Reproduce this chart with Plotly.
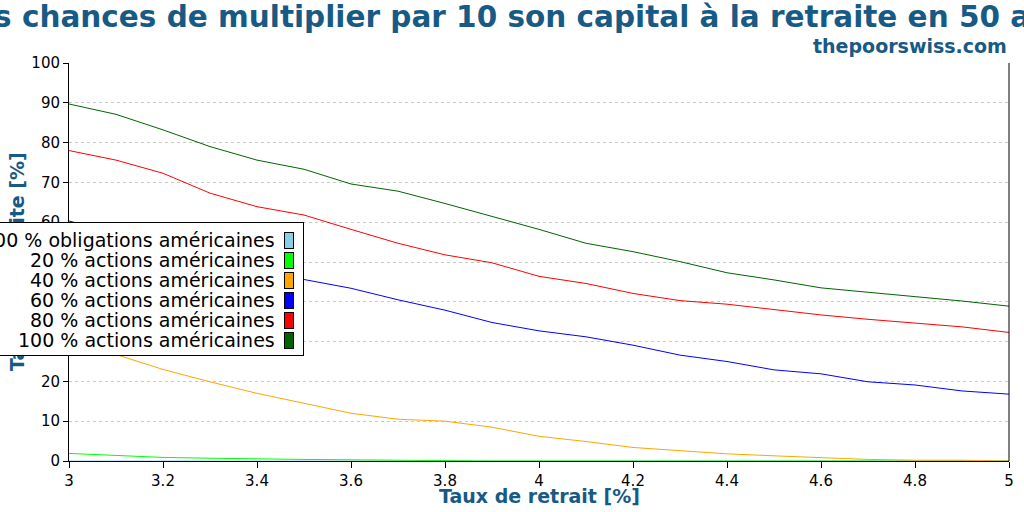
import plotly.graph_objects as go

# taux de retrait [%]
withdrawal_rate = [3.0, 3.1, 3.2, 3.3, 3.4, 3.5, 3.6, 3.7, 3.8, 3.9, 4.0,
                   4.1, 4.2, 4.3, 4.4, 4.5, 4.6, 4.7, 4.8, 4.9, 5.0]

# taux de réussite [%] pour chaque allocation
bonds_100 = [0.0] * 21
stocks_20 = [1.9, 1.4, 0.9, 0.7, 0.5, 0.4, 0.3, 0.2, 0.0, 0.0, 0.0,
             0.0, 0.0, 0.0, 0.0, 0.0, 0.0, 0.0, 0.0, 0.0, 0.0]
stocks_40 = [30.5, 26.8, 23.0, 19.9, 17.0, 14.5, 12.0, 10.5, 10.0, 8.5, 6.2,
             4.9, 3.4, 2.6, 1.8, 1.3, 0.8, 0.4, 0.2, 0.2, 0.0]
stocks_60 = [60.3, 57.2, 54.0, 51.0, 48.3, 45.6, 43.4, 40.5, 37.9, 34.8, 32.7,
             31.2, 29.1, 26.6, 25.0, 22.9, 21.9, 19.9, 19.1, 17.6, 16.8]
stocks_80 = [78.0, 75.6, 72.3, 67.3, 63.9, 61.8, 58.2, 54.7, 51.8, 49.8, 46.4,
             44.6, 42.1, 40.3, 39.4, 38.1, 36.7, 35.6, 34.6, 33.7, 32.3]
stocks_100 = [89.7, 87.1, 83.2, 79.0, 75.6, 73.3, 69.6, 67.8, 64.7, 61.4, 58.2,
              54.7, 52.6, 50.1, 47.3, 45.5, 43.5, 42.4, 41.3, 40.2, 38.9]

series_names = [
    "100 % obligations américaines",
    "20 % actions américaines",
    "40 % actions américaines",
    "60 % actions américaines",
    "80 % actions américaines",
    "100 % actions américaines",
]
series_values = [bonds_100, stocks_20, stocks_40, stocks_60, stocks_80, stocks_100]
series_colors = ["#87ceeb", "#00ff00", "#ffa500", "#0000ff", "#ff0000", "#006400"]

x_ticks = [3, 3.2, 3.4, 3.6, 3.8, 4, 4.2, 4.4, 4.6, 4.8, 5]

blue_text = "#175a85"
font = "DejaVu Sans"

W, H = 1024, 512
M = dict(l=69, r=15, t=63, b=51, autoexpand=False)
PW = W - M["l"] - M["r"]
PH = H - M["t"] - M["b"]


def px_x(x):
    return (x - M["l"]) / PW


def px_y(y):
    return (H - M["b"] - y) / PH


fig = go.Figure()
for name, values, color in zip(series_names, series_values, series_colors):
    fig.add_trace(
        go.Scatter(
            x=withdrawal_rate,
            y=values,
            name=name,
            mode="lines",
            line=dict(color=color, width=1),
            showlegend=False,
        )
    )

fig.update_layout(
    width=W,
    height=H,
    margin=M,
    paper_bgcolor="white",
    plot_bgcolor="white",
    font=dict(family=font, color="black", size=15),
    title=dict(
        text="Les chances de multiplier par 10 son capital à la retraite en 50 ans",
        x=0.5,
        xanchor="center",
        xref="container",
        y=1 - 17 / H,
        yanchor="middle",
        font=dict(family=font, size=29.5, color=blue_text, weight="bold"),
    ),
)

fig.update_xaxes(
    range=[3, 5],
    tickvals=x_ticks,
    ticktext=[f"{v:g}" for v in x_ticks],
    ticks="outside",
    ticklen=6,
    tickcolor="black",
    showline=True,
    linecolor="black",
    linewidth=1,
    showgrid=False,
    zeroline=False,
    automargin=False,
    layer="below traces",
)
fig.update_yaxes(
    range=[0, 100],
    dtick=10,
    ticks="outside",
    ticklen=5,
    tickcolor="black",
    showline=True,
    linecolor="black",
    linewidth=1,
    showgrid=True,
    gridcolor="#c8c8c8",
    griddash="dot",
    gridwidth=1,
    zeroline=False,
    automargin=False,
    layer="below traces",
)

# right border of the plot
fig.add_shape(type="line", xref="paper", yref="paper", x0=1, x1=1, y0=0, y1=1,
              line=dict(color="black", width=1))

# subtitle and axis titles
fig.add_annotation(text="<b>thepoorswiss.com</b>", xref="paper", yref="paper",
                   x=1, y=px_y(46), xanchor="right", yanchor="middle",
                   showarrow=False, font=dict(size=19, color=blue_text))
fig.add_annotation(text="<b>Taux de retrait [%]</b>", xref="paper", yref="paper",
                   x=0.5, y=px_y(496), xanchor="center", yanchor="middle",
                   showarrow=False, font=dict(size=19, color=blue_text))
fig.add_annotation(text="<b>Taux de réussite [%]</b>", xref="paper", yref="paper",
                   x=px_x(17), y=0.5, xanchor="center", yanchor="middle",
                   textangle=-90, showarrow=False,
                   font=dict(size=19, color=blue_text))

# legend box, drawn by hand on top of the y title: text right-aligned, swatch on the right
box_left, box_right, box_top, box_bottom = -20, 304, 222, 356
fig.add_annotation(text=" ", xref="paper", yref="paper",
                   x=px_x(box_right), y=px_y(box_top), xanchor="right", yanchor="top",
                   width=box_right - box_left - 2, height=box_bottom - box_top - 2,
                   bgcolor="white", bordercolor="black", borderwidth=1, borderpad=0,
                   showarrow=False)
for i, (name, color) in enumerate(zip(series_names, series_colors)):
    cy = 240 + 20 * i
    fig.add_annotation(text=name, xref="paper", yref="paper",
                       x=px_x(277), y=px_y(cy), xanchor="right", yanchor="middle",
                       showarrow=False, font=dict(size=19, color="black"))
    fig.add_annotation(text=" ", xref="paper", yref="paper",
                       x=px_x(289), y=px_y(cy), xanchor="center", yanchor="middle",
                       width=8, height=15, bgcolor=color, bordercolor="black",
                       borderwidth=1, borderpad=0, showarrow=False,
                       font=dict(size=4))

fig.write_html("out.html", config={"displayModeBar": False},
               post_script="document.body.style.margin='0px';")
